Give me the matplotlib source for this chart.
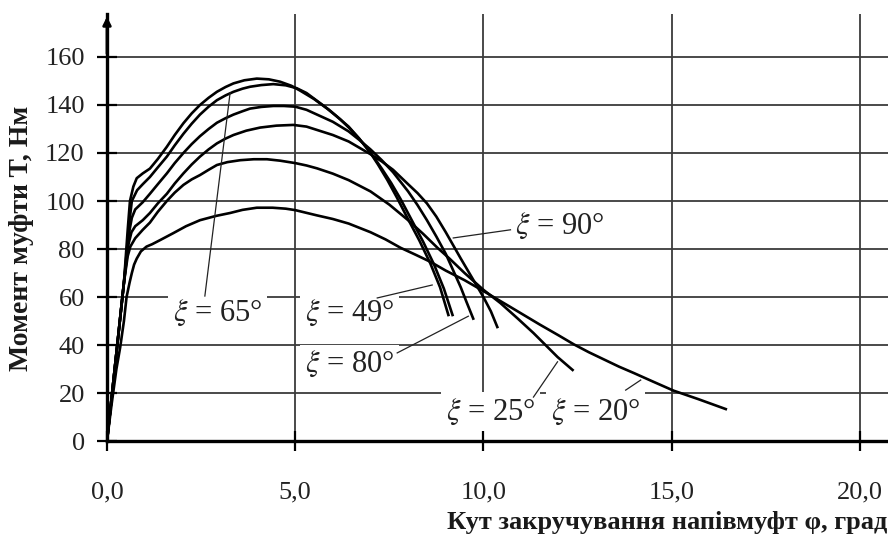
import matplotlib
matplotlib.use('Agg')
import matplotlib.pyplot as plt

plt.rcParams['font.family'] = ['Liberation Serif', 'DejaVu Serif']
plt.rcParams['mathtext.fontset'] = 'stix'

# ---------------- data ----------------
xi20_phi = [0, 0.12, 0.25, 0.35, 0.45, 0.52, 0.60, 0.66, 0.72, 0.79, 0.9, 1.05, 1.2, 1.41, 1.76, 2.1,
            2.47, 2.9, 3.27, 3.6, 3.98, 4.4, 4.75, 5.0, 5.58, 6.0, 6.42, 7.0, 7.4, 7.8, 8.2, 8.6, 9.0,
            9.5, 10.0, 10.7, 11.5, 12.0, 12.4, 12.8, 13.2, 13.6, 14.0, 14.5, 15.05, 15.7, 16.44]
xi20_T = [0, 15, 30, 39, 50, 60, 66, 70, 73.5, 76, 79, 81, 82, 83.7, 86.6, 89.5,
          92, 93.8, 95, 96.3, 97.2, 97.2, 96.8, 96.2, 94, 92.5, 90.6, 87, 84, 80.5, 77.6, 74.6, 71,
          67, 62.5, 56, 48.5, 44, 40.3, 37, 34, 31, 28.3, 24.8, 21, 17.5, 13.3]

xi25_phi = [0, 0.15, 0.3, 0.45, 0.55, 0.62, 0.75, 0.95, 1.14, 1.35, 1.59, 1.8, 2.03, 2.25, 2.47, 2.7,
            2.92, 3.2, 3.54, 3.9, 4.25, 4.6, 5.0, 5.3, 5.58, 6.0, 6.42, 7.0, 7.5, 8.0, 8.4, 8.78,
            9.1, 9.5, 10.0, 10.45, 10.9, 11.33, 11.65, 11.97, 12.37]
xi25_T = [0, 22, 44, 66, 77, 81, 84.5, 88, 91, 95.5, 100, 103.5, 106.7, 109, 110.8, 113,
          115, 116.2, 117, 117.4, 117.4, 116.8, 115.8, 114.8, 113.6, 111.4, 108.7, 104, 98.5, 92, 86.3, 80.5,
          76, 70, 63, 57.5, 51.2, 45, 40, 35, 29.6]

xi90_phi = [0, 0.15, 0.3, 0.45, 0.57, 0.65, 0.75, 0.95, 1.14, 1.35, 1.59, 1.8, 2.03, 2.25, 2.47, 2.7,
            2.92, 3.15, 3.36, 3.7, 4.07, 4.5, 4.95, 5.3, 5.58, 6.0, 6.42, 7.0, 7.3, 7.6, 8.0, 8.25,
            8.5, 8.75, 9.0, 9.2, 9.4, 9.7, 10.0, 10.2, 10.37]
xi90_T = [0, 22, 44, 66, 82, 87, 89.5, 92, 95, 99, 103, 107.3, 111.5, 115.2, 118.5, 121.5,
          124, 126, 127.5, 129.3, 130.6, 131.4, 131.7, 131, 129.6, 127.5, 124.8, 119.5, 116.5, 113, 107, 103.3,
          99, 93.5, 87, 81.5, 76, 68, 60, 54, 47.5]

xi80_phi = [0, 0.15, 0.3, 0.45, 0.6, 0.66, 0.75, 0.95, 1.14, 1.35, 1.59, 1.8, 2.03, 2.25, 2.47, 2.7,
            2.92, 3.15, 3.36, 3.6, 3.8, 4.1, 4.42, 4.7, 5.0, 5.3, 5.58, 6.0, 6.42, 6.7, 7.0, 7.3,
            7.6, 8.0, 8.25, 8.5, 8.75, 9.0, 9.2, 9.4, 9.55, 9.73]
xi80_T = [0, 22, 44, 66, 88, 93, 96.5, 99.5, 103, 107, 111.5, 115.8, 120, 123.7, 127, 130,
          132.6, 134.5, 136, 137.4, 138.5, 139.2, 139.6, 139.6, 139.3, 138, 136, 133, 129, 125.5, 121.5, 117,
          112, 104, 98.3, 92, 85.2, 78, 71, 64, 58, 51]

xi65_phi = [0, 0.15, 0.3, 0.45, 0.6, 0.66, 0.8, 0.95, 1.14, 1.35, 1.59, 1.8, 2.03, 2.25, 2.47, 2.7,
            2.92, 3.15, 3.36, 3.6, 3.8, 4.1, 4.42, 4.75, 5.04, 5.3, 5.6, 5.9, 6.2, 6.45, 6.7, 6.9,
            7.1, 7.3, 7.55, 7.8, 8.08, 8.4, 8.69, 8.95, 9.18]
xi65_T = [0, 22, 44, 66, 92, 100, 104.5, 107, 110, 114, 118.5, 123.2, 128, 132.2, 136, 139.3,
          142, 144, 145.5, 146.8, 147.6, 148.3, 148.7, 148.2, 147, 145, 141.5, 138, 134, 130.2, 126, 122.2,
          118, 113.5, 107.5, 100.8, 92.5, 83, 73.5, 63.5, 52.5]

xi49_phi = [0, 0.15, 0.3, 0.45, 0.55, 0.61, 0.7, 0.79, 0.95, 1.14, 1.35, 1.59, 1.8, 2.03, 2.25, 2.47,
            2.7, 2.92, 3.15, 3.36, 3.65, 3.98, 4.3, 4.6, 4.9, 5.13, 5.5, 5.84, 6.1, 6.42, 6.7, 7.0,
            7.2, 7.45, 7.7, 7.98, 8.3, 8.59, 8.85, 9.07]
xi49_T = [0, 22, 44, 66, 88, 100, 106, 109.5, 111.5, 113.5, 117.5, 122.6, 127.5, 132.4, 136.5, 140,
          143, 145.5, 147.5, 149, 150.3, 151, 150.7, 149.7, 148, 146, 142.5, 138.6, 135.3, 131, 126, 120,
          115.2, 108.7, 101.5, 93, 83.5, 74, 64, 52.5]

x_ticks = [0, 5, 10, 15, 20]
x_tick_labels = ['0,0', '5,0', '10,0', '15,0', '20,0']
y_ticks = [0, 20, 40, 60, 80, 100, 120, 140, 160]
y_tick_labels = ['0', '20', '40', '60', '80', '100', '120', '140', '160']

curve_labels = [r'$\xi$ = 65°', r'$\xi$ = 49°', r'$\xi$ = 80°', r'$\xi$ = 90°',
                r'$\xi$ = 25°', r'$\xi$ = 20°']

x_title = 'Кут закручування напівмуфт φ, град'
y_title = 'Момент муфти T, Нм'

# ---------------- layout ----------------
W, H = 888, 536
fig = plt.figure(figsize=(W / 100, H / 100), dpi=100)
ax = fig.add_axes([107 / W, 95 / H, 781 / W, 427.2 / H])
ax.set_xlim(0, 20.75)
ax.set_ylim(0, 178)

grid_c = '#3c3c3c'
ax.set_xticks(x_ticks)
ax.set_xticklabels(x_tick_labels)
ax.set_yticks(y_ticks)
ax.set_yticklabels(y_tick_labels)
ax.grid(True, color=grid_c, lw=1.3, zorder=0)
ax.set_axisbelow(True)

for s in ['top', 'right']:
    ax.spines[s].set_visible(False)
for s in ['left', 'bottom']:
    ax.spines[s].set_linewidth(2.4)
    ax.spines[s].set_color('black')
    ax.spines[s].set_zorder(5)

ax.tick_params(axis='both', direction='inout', length=14, width=1.6, colors='black',
               labelsize=19, labelcolor='#222222')
ax.tick_params(axis='x', pad=22)
ax.tick_params(axis='y', pad=9)

# arrow on y axis
ax.annotate('', xy=(0, 1.0), xycoords='axes fraction', xytext=(0, 0.9),
            arrowprops=dict(arrowstyle='-|>', color='black', lw=2.0, mutation_scale=12),
            annotation_clip=False, zorder=6)

series = [(xi20_phi, xi20_T), (xi25_phi, xi25_T), (xi90_phi, xi90_T),
          (xi80_phi, xi80_T), (xi65_phi, xi65_T), (xi49_phi, xi49_T)]
for px, ty in series:
    ax.plot(px, ty, color='black', lw=1.9, solid_joinstyle='round', zorder=3)

# curve labels: text position, leader start, leader end (data coords)
label_pos = [(2.93, 53.5), (6.44, 53.5), (6.44, 32), (12.02, 89.5), (10.19, 12.3), (12.98, 12.3)]
leader_a = [(2.6, 60.4), (7.18, 59.6), (7.71, 36.7), (10.72, 88.0), (11.33, 18.3), (13.78, 21.2)]
leader_b = [(3.27, 145.0), (8.64, 65.0), (9.6, 52.0), (9.2, 84.6), (11.97, 33.0), (14.18, 25.4)]

for txt, (lx, ly), a, b in zip(curve_labels, label_pos, leader_a, leader_b):
    ax.text(lx, ly, txt, fontsize=22, ha='center', va='center', color='#222222', zorder=4,
            bbox=dict(boxstyle='square,pad=0.15', fc='white', ec='none'))
    ax.plot([a[0], b[0]], [a[1], b[1]], color='#222222', lw=0.9, zorder=4)

fig.text(887 / W, 1 - 522 / H, x_title, ha='right', va='center', fontsize=19,
         fontweight='bold', color='#1a1a1a')
fig.text(22 / W, 1 - 238 / H, y_title, ha='center', va='center', rotation=90,
         fontsize=20, fontweight='bold', color='#1a1a1a')

fig.savefig('out.png', dpi=100)
